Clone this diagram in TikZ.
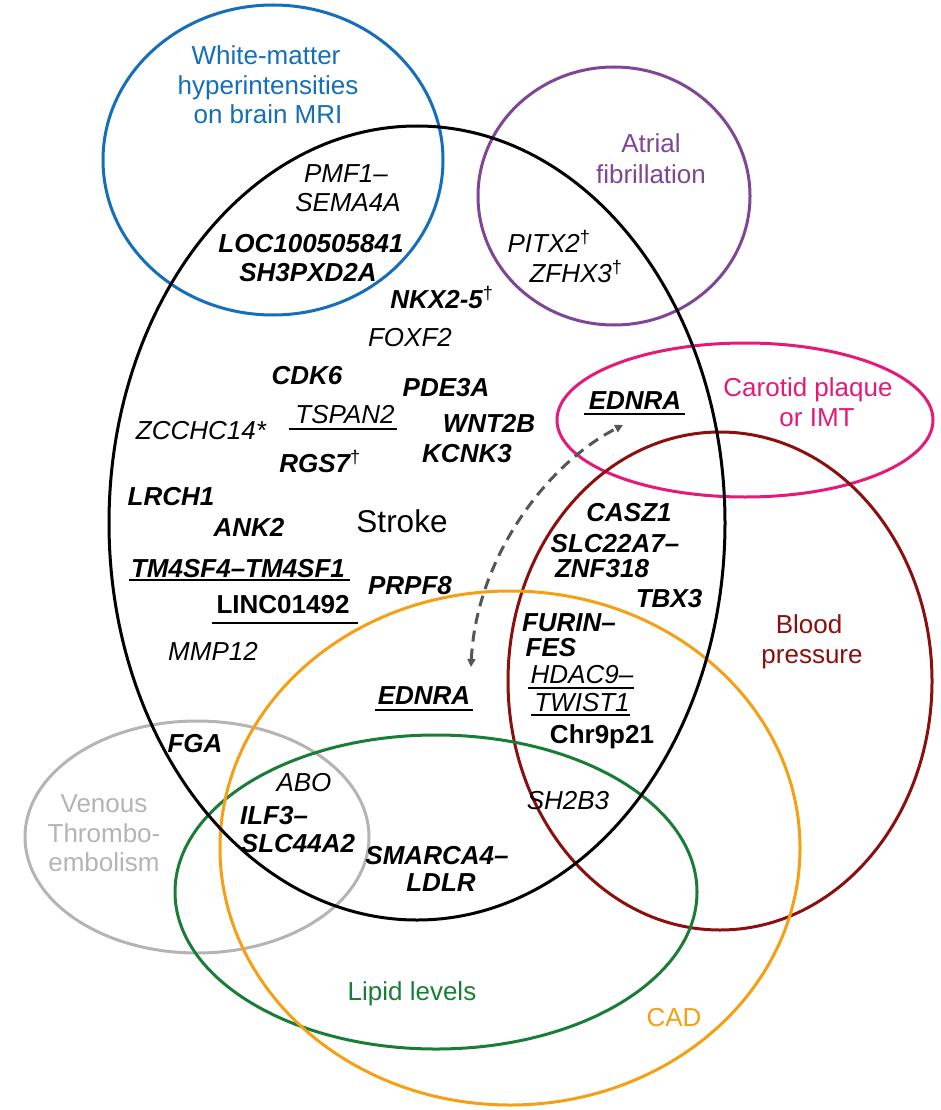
\documentclass[tikz,border=0pt]{standalone}
\usepackage{fontspec}
\setmainfont{Liberation Sans}
\usetikzlibrary{arrows.meta}
\definecolor{wmblue}{RGB}{20,110,185}
\definecolor{afpurple}{RGB}{128,70,150}
\definecolor{cppink}{RGB}{228,25,120}
\definecolor{bpred}{RGB}{140,15,15}
\definecolor{cadorange}{RGB}{245,160,20}
\definecolor{lipgreen}{RGB}{25,125,55}
\definecolor{vtegray}{RGB}{180,180,180}
\definecolor{dashgray}{RGB}{85,85,85}
\tikzset{
  venn/.style={line width=3pt},
  gene/.style={font=\fontsize{26}{31}\selectfont\itshape, inner sep=0pt, text height=18.6pt, text depth=0pt},
  bgene/.style={gene, font=\fontsize{26}{31}\selectfont\bfseries\itshape},
  bup/.style={gene, font=\fontsize{26}{31}\selectfont\bfseries},
  lab/.style={font=\fontsize{26}{31}\selectfont, inner sep=0pt, text height=18.6pt, text depth=0pt},
  ulline/.style={line width=2pt},
  dasharrow/.style={line width=3pt, dashgray, dash pattern=on 11pt off 7pt,
    {Triangle[length=8pt,width=8pt]}-{Triangle[length=8pt,width=8pt]}}
}
\newcommand{\dg}{{\normalfont\textsuperscript{†}}}
\begin{document}
\begin{tikzpicture}[x=1pt,y=-1pt]
\useasboundingbox (0,0) rectangle (941,1110);
% ---- sets ----
\draw[venn, vtegray] (197,837) ellipse [x radius=172pt, y radius=116pt];
\draw[venn, wmblue] (273,160) ellipse [x radius=170pt, y radius=155pt];
\draw[venn, afpurple] (614,196) ellipse [x radius=136pt, y radius=129pt];
\draw[venn, cppink] (745,420) ellipse [x radius=188pt, y radius=77pt];
\draw[venn, bpred] (720,681) ellipse [x radius=212pt, y radius=249pt];
\draw[venn, lipgreen] (436,892) ellipse [x radius=261pt, y radius=157pt];
\draw[venn, cadorange] (510,848) ellipse [x radius=290pt, y radius=257pt];
\draw[venn, black] (417,523) ellipse [x radius=308pt, y radius=397pt];
% ---- set labels ----
\node[lab, wmblue] (wm1) at (266,55) {White-matter};
\node[lab, wmblue] (wm2) at (268,85) {hyperintensities};
\node[lab, wmblue] (wm3) at (268,114) {on brain MRI};
\node[lab, afpurple] (af1) at (651,143) {Atrial};
\node[lab, afpurple] (af2) at (651,174) {fibrillation};
\node[lab, cppink] (cp1) at (808,387) {Carotid plaque};
\node[lab, cppink] (cp2) at (817,417) {or IMT};
\node[lab, bpred] (bp1) at (809,624) {Blood};
\node[lab, bpred] (bp2) at (812,654) {pressure};
\node[lab, vtegray] (vt1) at (104,803) {Venous};
\node[lab, vtegray] (vt2) at (104,833) {Thrombo-};
\node[lab, vtegray] (vt3) at (104,862) {embolism};
\node[lab, lipgreen] (lip) at (412,991) {Lipid levels};
\node[lab, cadorange] (cad) at (674,1017) {CAD};
\node[lab, font=\fontsize{31.5}{37}\selectfont, text height=22.5pt] (stroke) at (402,521) {Stroke};
% ---- genes ----
\node[gene] (pmf) at (346,173) {PMF1–};
\node[gene] (sema) at (348,202) {SEMA4A};
\node[bgene] (loc) at (311,243) {LOC100505841};
\node[bgene] (sh3) at (308,272) {SH3PXD2A};
\node[bgene] (nkx) at (442,299) {NKX2-5\dg};
\node[gene] (foxf) at (410,337) {FOXF2};
\node[gene] (pitx) at (549,243) {PITX2\dg};
\node[gene] (zfhx) at (576,273) {ZFHX3\dg};
\node[bgene] (cdk) at (307,375) {CDK6};
\node[bgene] (pde) at (446,387) {PDE3A};
\node[gene] (tspan) at (345,414) {TSPAN2};
\node[gene] (zcc) at (201,430) {ZCCHC14*};
\node[bgene] (wnt) at (489,423) {WNT2B};
\node[bgene] (rgs) at (320,463) {RGS7\dg};
\node[bgene] (kcnk) at (467,453) {KCNK3};
\node[bgene] (lrch) at (171,496) {LRCH1};
\node[bgene] (ank) at (249,527) {ANK2};
\node[bgene] (tm4) at (238,568) {TM4SF4–TM4SF1};
\node[bup] (linc) at (283,604) {LINC01492};
\node[bgene] (prpf) at (410,585) {PRPF8};
\node[gene] (mmp) at (213,651) {MMP12};
\node[bgene] (ednlo) at (424,695) {EDNRA};
\node[bgene] (ednup) at (635,400) {EDNRA};
\node[bgene] (casz) at (629,512) {CASZ1};
\node[bgene] (slc22) at (615,543) {SLC22A7–};
\node[bgene] (znf) at (602,568) {ZNF318};
\node[bgene] (tbx) at (669,598) {TBX3};
\node[bgene] (furin) at (569,622) {FURIN–};
\node[bgene] (fes) at (551,647) {FES};
\node[gene] (hdac) at (582,674) {HDAC9–};
\node[gene] (twist) at (582,702) {TWIST1};
\node[bup] (chr) at (602,734) {Chr9p21};
\node[gene] (sh2b) at (568,800) {SH2B3};
\node[bgene] (fga) at (195,743) {FGA};
\node[gene] (abo) at (304,782) {ABO};
\node[bgene] (ilf) at (274,815) {ILF3–};
\node[bgene] (slc44) at (298,843) {SLC44A2};
\node[bgene] (smarca) at (437,855) {SMARCA4–};
\node[bgene] (ldlr) at (441,882) {LDLR};
% ---- underlines ----
\draw[ulline] ([xshift=-6pt,yshift=-5pt]tspan.south west) -- ([xshift=2pt,yshift=-5pt]tspan.south east);
\draw[ulline] ([xshift=-2pt,yshift=-2pt]tm4.south west) -- ([xshift=5pt,yshift=-2pt]tm4.south east);
\draw[ulline] ([xshift=-4pt,yshift=-9pt]linc.south west) -- ([xshift=8pt,yshift=-9pt]linc.south east);
\draw[ulline] ([xshift=-3pt,yshift=-5pt]ednlo.south west) -- ([xshift=3pt,yshift=-5pt]ednlo.south east);
\draw[ulline] ([xshift=-5pt,yshift=-4pt]ednup.south west) -- ([xshift=4pt,yshift=-4pt]ednup.south east);
\draw[ulline] ([xshift=-3pt,yshift=-4pt]hdac.south west) -- ([xshift=0pt,yshift=-4pt]hdac.south east);
\draw[ulline] ([xshift=-3pt,yshift=-3pt]twist.south west) -- ([xshift=0pt,yshift=-3pt]twist.south east);
% ---- dashed connector ----
\coordinate (dstart) at (471,667);
\coordinate (dend) at (623,425);
\draw[dasharrow] (dstart) .. controls (476,560) and (545,465) .. (dend);
\end{tikzpicture}
\end{document}
